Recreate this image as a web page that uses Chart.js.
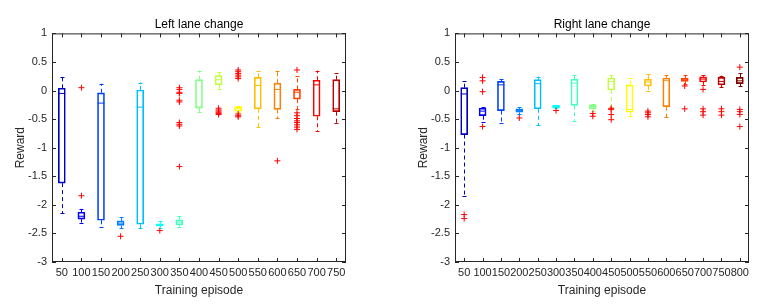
<!DOCTYPE html>
<html>
<head>
<meta charset="utf-8">
<script src="https://cdn.jsdelivr.net/npm/chart.js@4/dist/chart.umd.min.js"></script>
<style>
  html, body { margin: 0; padding: 0; background: #fff; }
  #wrap { position: relative; width: 777px; height: 304px; }
  canvas { position: absolute; top: 0; }
</style>
</head>
<body>
<div id="wrap">
  <canvas id="left" width="388" height="304" style="left:0"></canvas>
  <canvas id="right" width="389" height="304" style="left:388px"></canvas>
</div>
<script>
// jet(16) colours, one per training episode
const jet = ['#0000bf', '#0000ff', '#0040ff', '#0080ff', '#00bfff', '#00ffff', '#40ffbf', '#80ff80',
             '#bfff40', '#ffff00', '#ffbf00', '#ff8000', '#ff4000', '#ff0000', '#bf0000', '#800000'];

// left lane change
const leftLabels = ['50', '100', '150', '200', '250', '300', '350', '400', '450', '500', '550', '600', '650', '700', '750'];
const leftHi  = [0.23, -2.07, 0.12, -2.22, 0.14, -2.28, -2.20, 0.35, 0.32, -0.27, 0.34, 0.34, 0.25, 0.35, 0.31];
const leftQ3  = [0.04, -2.13, -0.04, -2.28, 0.01, -2.33, -2.26, 0.19, 0.26, -0.28, 0.23, 0.13, 0.02, 0.18, 0.19];
const leftMed = [-0.05, -2.20, -0.22, -2.32, -0.29, -2.35, -2.30, -0.29, 0.19, -0.31, 0.09, 0.02, -0.03, 0.10, -0.32];
const leftQ1  = [-1.62, -2.25, -2.27, -2.36, -2.34, -2.37, -2.35, -0.31, 0.10, -0.36, -0.32, -0.33, -0.15, -0.45, -0.37];
const leftLo  = [-2.15, -2.31, -2.39, -2.41, -2.41, -2.40, -2.38, -0.37, 0.02, -0.37, -0.64, -0.48, -0.33, -0.71, -0.57];
const leftOut = [
  [], [0.05, -1.84], [], [-2.55], [], [-2.45],
  [0.05, 0.02, -0.03, -0.05, -0.17, -0.20, -0.56, -0.59, -0.62, -1.33],
  [], [-0.31, -0.34, -0.36, -0.38, -0.40, -0.42],
  [0.36, 0.33, 0.30, 0.27, 0.24, 0.21, -0.41, -0.44, -0.46],
  [], [-1.23],
  [0.36, -0.39, -0.44, -0.49, -0.53, -0.56, -0.60, -0.64, -0.68],
  [], []
];

// right lane change
const rightLabels = ['50', '100', '150', '200', '250', '300', '350', '400', '450', '500', '550', '600', '650', '700', '750', '800'];
const rightHi  = [0.16, -0.29, 0.20, -0.29, 0.24, -0.26, 0.27, -0.24, 0.27, 0.22, 0.29, 0.27, 0.27, 0.27, 0.26, 0.31];
const rightQ3  = [0.05, -0.31, 0.16, -0.32, 0.19, -0.26, 0.20, -0.25, 0.22, 0.10, 0.20, 0.22, 0.22, 0.24, 0.23, 0.23];
const rightMed = [-0.06, -0.36, 0.10, -0.35, 0.12, -0.28, 0.13, -0.28, 0.16, -0.33, 0.15, 0.18, 0.19, 0.20, 0.16, 0.17];
const rightQ1  = [-0.77, -0.44, -0.35, -0.38, -0.32, -0.30, -0.26, -0.32, 0.01, -0.38, 0.08, -0.28, 0.16, 0.15, 0.10, 0.12];
const rightLo  = [-1.85, -0.55, -0.57, -0.41, -0.61, -0.31, -0.53, -0.35, -0.28, -0.44, -0.01, -0.47, 0.11, 0.10, 0.06, 0.08];
const rightOut = [
  [-2.17, -2.24], [0.23, 0.17, -0.02, -0.63], [], [-0.48], [], [-0.35], [],
  [-0.40, -0.45], [-0.31, -0.33, -0.42, -0.51], [], [-0.36, -0.39, -0.42, -0.46], [],
  [0.08, -0.32], [0.02, -0.32, -0.37, -0.43], [-0.32, -0.37, -0.43], [0.41, -0.33, -0.37, -0.42, -0.63]
];

const ink = '#262626';
Chart.defaults.font.family = '"Liberation Sans", Arial, sans-serif';
Chart.defaults.color = ink;

// whiskers, caps, axis box and inward ticks (matlab style)
function boxExtras(lo, hi, q1, q3, colors) {
  return {
    id: 'boxExtras',
    beforeDatasetsDraw(chart) {
      const {ctx, scales: {x, y}} = chart;
      ctx.save();
      ctx.lineWidth = 1;
      lo.forEach((v, i) => {
        const px = Math.round(x.getPixelForValue(i)) + 0.5;
        ctx.strokeStyle = colors[i];
        ctx.setLineDash([4, 3]);
        ctx.beginPath();
        ctx.moveTo(px, y.getPixelForValue(q3[i]));
        ctx.lineTo(px, y.getPixelForValue(hi[i]));
        ctx.moveTo(px, y.getPixelForValue(q1[i]));
        ctx.lineTo(px, y.getPixelForValue(v));
        ctx.stroke();
        ctx.setLineDash([]);
        ctx.beginPath();
        [hi[i], v].forEach(w => {
          const py = Math.round(y.getPixelForValue(w)) + 0.5;
          ctx.moveTo(px - 2, py);
          ctx.lineTo(px + 2, py);
        });
        ctx.stroke();
      });
      ctx.restore();
    },
    afterDraw(chart) {
      const {ctx, chartArea: {left, right, top, bottom}, scales: {x, y}} = chart;
      ctx.save();
      ctx.strokeStyle = ink;
      ctx.lineWidth = 1;
      ctx.strokeRect(left + 0.5, top + 0.5, right - left - 1, bottom - top - 1);
      ctx.beginPath();
      x.ticks.forEach((t, i) => {
        const px = Math.round(x.getPixelForTick(i)) + 0.5;
        ctx.moveTo(px, bottom); ctx.lineTo(px, bottom - 4);
        ctx.moveTo(px, top); ctx.lineTo(px, top + 4);
      });
      y.ticks.forEach((t, i) => {
        const py = Math.round(y.getPixelForTick(i)) + 0.5;
        ctx.moveTo(left, py); ctx.lineTo(left + 4, py);
        ctx.moveTo(right, py); ctx.lineTo(right - 4, py);
      });
      ctx.stroke();
      ctx.restore();
    }
  };
}

function makeChart(id, title, labels, lo, q1, med, q3, hi, out, padL, padR) {
  const colors = jet.slice(0, labels.length);
  const outliers = labels.flatMap((l, i) => out[i].map(v => ({x: l, y: v})));
  return new Chart(document.getElementById(id), {
    type: 'bar',
    data: {
      labels,
      datasets: [
        {
          type: 'bar',
          data: labels.map((l, i) => [q1[i], q3[i]]),
          borderColor: colors,
          backgroundColor: 'rgba(0,0,0,0)',
          borderWidth: 1,
          borderSkipped: false,
          barThickness: 7,
          grouped: false,
          order: 3
        },
        {
          type: 'line',
          data: med,
          showLine: false,
          pointStyle: 'line',
          pointRadius: 3.5,
          pointBorderWidth: 1,
          pointBorderColor: colors,
          order: 2
        },
        {
          type: 'line',
          data: outliers,
          showLine: false,
          pointStyle: 'cross',
          pointRadius: 3,
          pointBorderWidth: 1,
          pointBorderColor: '#ff0000',
          order: 1
        }
      ]
    },
    options: {
      responsive: false,
      animation: false,
      events: [],
      devicePixelRatio: 1,
      layout: {padding: {left: padL, right: padR, top: 0, bottom: 0}},
      plugins: {
        legend: {display: false},
        tooltip: {enabled: false},
        title: {
          display: true, text: title, fullSize: false, color: '#000',
          font: {size: 12, weight: 'normal'}, padding: {top: 17, bottom: 2}
        }
      },
      scales: {
        x: {
          grid: {display: false, drawTicks: false},
          border: {display: false},
          ticks: {autoSkip: false, maxRotation: 0, minRotation: 0, padding: 4, font: {size: 11}},
          title: {display: true, text: 'Training episode', font: {size: 12}, padding: {top: 0, bottom: 6}},
          afterFit: s => { s.height = 42; }
        },
        y: {
          min: -3, max: 1,
          grid: {display: false, drawTicks: false},
          border: {display: false},
          ticks: {stepSize: 0.5, padding: 5, font: {size: 11}, callback: v => String(v)},
          title: {display: true, text: 'Reward', font: {size: 12}, padding: {top: 13, bottom: 0}},
          afterFit: s => { s.width = 52; }
        }
      }
    },
    plugins: [boxExtras(lo, hi, q1, q3, colors)]
  });
}

makeChart('left', 'Left lane change', leftLabels, leftLo, leftQ1, leftMed, leftQ3, leftHi, leftOut, 0, 42);
makeChart('right', 'Right lane change', rightLabels, rightLo, rightQ1, rightMed, rightQ3, rightHi, rightOut, 15, 28);
</script>
</body>
</html>
